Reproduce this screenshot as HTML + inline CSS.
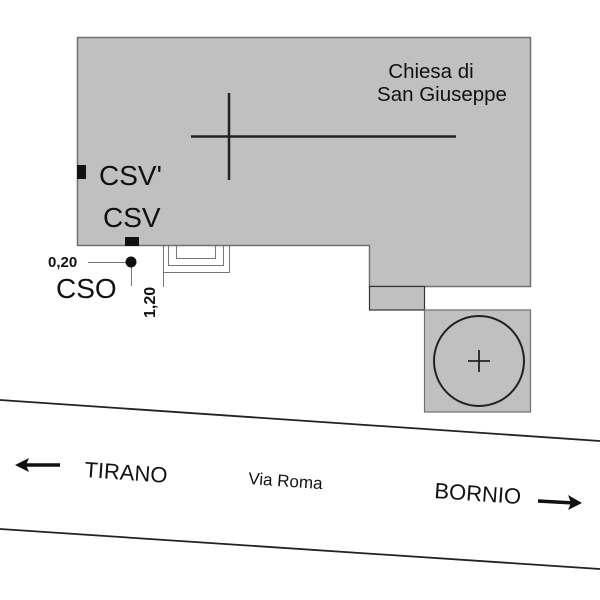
<!DOCTYPE html>
<html><head><style>
html,body{margin:0;padding:0;background:#fff;}
svg{display:block;}
text{font-family:"Liberation Sans",Arial,sans-serif;fill:#111;}
</style></head><body>
<svg width="600" height="600" viewBox="0 0 600 600" xmlns="http://www.w3.org/2000/svg">
<rect width="600" height="600" fill="#fff"/>
<path d="M77.5 37.5 H530.5 V286.5 H369.5 V245.5 H77.5 Z" fill="#c0c0c0" stroke="#707070" stroke-width="1.5"/>
<rect x="369.5" y="286.5" width="55" height="23.5" fill="#c0c0c0" stroke="#333" stroke-width="1.2"/>
<rect x="424.5" y="310" width="106" height="102" fill="#c0c0c0" stroke="#707070" stroke-width="1.2"/>
<circle cx="479" cy="361" r="45" fill="none" stroke="#222" stroke-width="2"/>
<path d="M468 361 H490 M479 350 V372" stroke="#222" stroke-width="1.8"/>
<path d="M229 93 V180 M191 136.5 H456" stroke="#222" stroke-width="2.5"/>
<text x="431" y="78" font-size="20.5" text-anchor="middle">Chiesa di</text>
<text x="442" y="101" font-size="20.5" text-anchor="middle">San Giuseppe</text>
<rect x="77" y="165" width="9" height="14" fill="#111"/>
<text x="99" y="185" font-size="28">CSV'</text>
<text x="103" y="227" font-size="28">CSV</text>
<rect x="125" y="237" width="14" height="9" fill="#111"/>
<g fill="none" stroke="#777" stroke-width="1">
<path d="M163.5 245.5 V272.5 H229.5 V245.5"/>
<path d="M168.5 245.5 V265.5 H223.5 V245.5"/>
<path d="M176.5 245.5 V258.5 H215.5 V245.5"/>
<path d="M163.5 272 V287"/>
<path d="M88 262.5 H131 M131.5 262 V286"/>
</g>
<circle cx="131" cy="262" r="5.5" fill="#111"/>
<text x="48" y="267" font-size="15" font-weight="bold">0,20</text>
<text x="56" y="298" font-size="28">CSO</text>
<text transform="translate(155,318) rotate(-90)" font-size="16" font-weight="bold">1,20</text>
<path d="M0 400 L600 441" stroke="#222" stroke-width="1.8"/>
<path d="M0 529 L600 569" stroke="#222" stroke-width="1.8"/>
<path d="M60 465 L24 465" stroke="#111" stroke-width="3.5"/>
<path d="M29 458 L15 465 L29 472 L26 465 Z" fill="#111"/>
<text transform="translate(84,477) rotate(4)" font-size="22">TIRANO</text>
<text transform="translate(248,484) rotate(4)" font-size="17">Via Roma</text>
<text transform="translate(434,498) rotate(4)" font-size="22">BORNIO</text>
<path d="M538 501 L574 503" stroke="#111" stroke-width="3.5"/>
<path d="M568 495 L582 503 L568 510 L571 503 Z" fill="#111"/>
</svg>
</body></html>
